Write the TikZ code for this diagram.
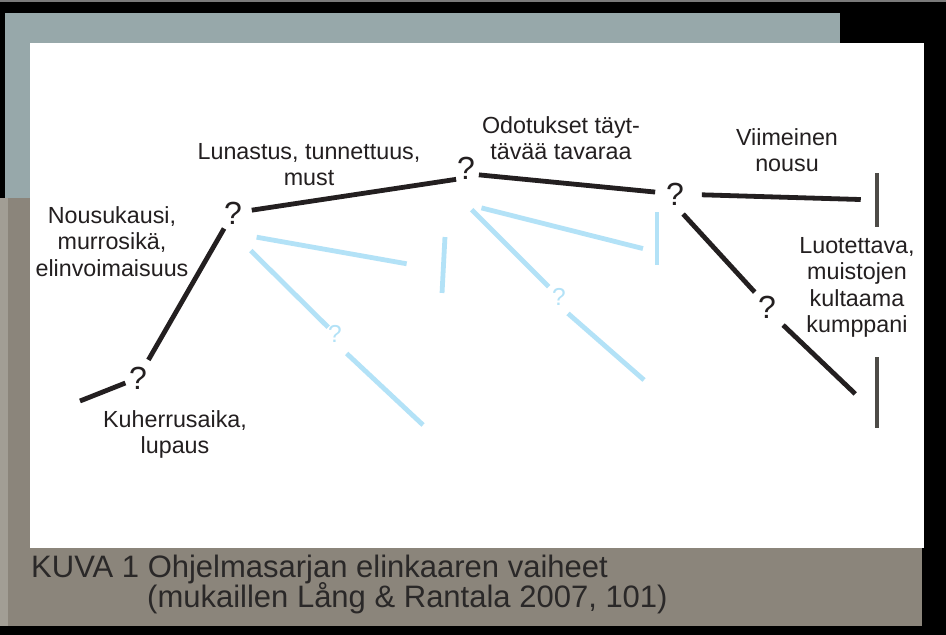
\documentclass[tikz,border=0pt]{standalone}
\usepackage{fontspec}
\setmainfont{Liberation Sans}
\usepackage{tikz}
\usetikzlibrary{calc}
\usepackage{xcolor}
\definecolor{ink}{HTML}{231F20}
\definecolor{capink}{HTML}{2A2828}
\definecolor{skyline}{HTML}{B3E2F7}
\definecolor{bargray}{HTML}{4D4B47}
\definecolor{bluegray}{HTML}{97A8AA}
\definecolor{taupe}{HTML}{8B857B}
\definecolor{stripgray}{HTML}{A29E95}
\definecolor{edgegray}{HTML}{7A7A7A}

\begin{document}
\begin{tikzpicture}[
    x=1pt, y=-1pt,
    stage/.style={draw=ink, line width=4.8pt},
    alt/.style={draw=skyline, line width=4.8pt},
    qmark/.style={font=\fontsize{32}{32}\selectfont, text=ink, inner sep=0pt, outer sep=0pt},
    qalt/.style={font=\fontsize{24.5}{24.5}\selectfont, text=skyline, inner sep=0pt, outer sep=0pt},
    endbar/.style={fill=bargray, inner sep=0pt, outer sep=0pt, minimum width=4.5pt},
    altbar/.style={fill=skyline, inner sep=0pt, outer sep=0pt, minimum width=4.8pt},
    lbl/.style={font=\fontsize{23.3}{26.5}\selectfont, text=ink, align=center, anchor=north, inner sep=0pt},
    captxt/.style={font=\fontsize{31}{31}\selectfont, text=capink, anchor=base west, inner sep=0pt},
]
\useasboundingbox (0,0) rectangle (946,635);
\fill[black] (0,0) rectangle (946,635);
\fill[edgegray] (0,0) rectangle (946,2);
\fill[bluegray] (5,13) rectangle (840,200);
\fill[taupe] (0,198) rectangle (922,626);
\fill[stripgray] (0,198) rectangle (8,626);
\fill[white] (30,43) rectangle (924,548);

\node[qmark] (q1) at (138,378) {?};
\node[qmark] (q2) at (233,213) {?};
\node[qmark] (q3) at (466,168) {?};
\node[qmark] (q4) at (675,194) {?};
\node[qmark] (q5) at (767,307) {?};
\node[qalt] (qa1) at (335,334) {?};
\node[qalt] (qa2) at (559,297) {?};
\node[endbar, minimum height=54pt] (end1) at (877,200) {};
\node[endbar, minimum height=71pt] (end2) at (877,392.5) {};
\node[altbar, minimum height=56pt, rotate=-3] (altend1) at (443.5,265) {};
\node[altbar, minimum height=53pt] (altend2) at (657,238.5) {};
\coordinate (start) at (80,401);
\coordinate (free1) at (423,425);
\coordinate (free2) at (644,380);

\draw[stage, shorten >=4pt] (start) -- (q1);
\draw[stage, shorten <=8pt, shorten >=5pt] (q1) -- (q2);
\draw[stage, shorten <=10pt, shorten >=1pt] (q2) -- (q3.south west);
\draw[stage, shorten <=4pt, shorten >=11pt] (q3.-36) -- (q4);
\draw[stage, shorten <=18pt, shorten >=14pt] (q4) -- (end1);
\draw[stage, shorten <=12pt, shorten >=5pt] (q4.south) -- (q5.north west);
\draw[stage, shorten <=10pt, shorten >=27pt] (q5.south east) -- ([yshift=-20pt]end2.west);

\draw[alt, shorten <=24pt, shorten >=35pt] ([yshift=-20pt]q2.center) -- ([yshift=-5pt]altend1.west);
\draw[alt, shorten <=25pt] ([yshift=-20pt]q2.center) -- (qa1);
\draw[alt, shorten <=16pt] (qa1.south) -- (free1);
\draw[alt, shorten <=16pt, shorten >=12pt] ([yshift=-36pt]q3.center) -- ([yshift=-13pt]altend2.west);
\draw[alt, shorten <=8pt, shorten >=5pt] ([yshift=-36pt]q3.center) -- (qa2);
\draw[alt, shorten <=12pt] (qa2.south) -- (free2);

\node[lbl] (l1) at (112,206) {Nousukausi,\\murrosikä,\\elinvoimaisuus};
\node[lbl] (l2) at (309,143) {Lunastus, tunnettuus,\\must};
\node[lbl] (l3) at (561,116) {Odotukset täyt-\\tävää tavaraa};
\node[lbl] (l4) at (787,128) {Viimeinen\\nousu};
\node[lbl] (l5) at (857,237) {Luotettava,\\muistojen\\kultaama\\kumppani};
\node[lbl] (l6) at (175,410) {Kuherrusaika,\\lupaus};

\node[captxt] (c1) at (31,577) {KUVA 1 Ohjelmasarjan elinkaaren vaiheet};
\node[captxt] (c2) at (147,607) {(mukaillen Lång \& Rantala 2007, 101)};
\end{tikzpicture}
\end{document}
